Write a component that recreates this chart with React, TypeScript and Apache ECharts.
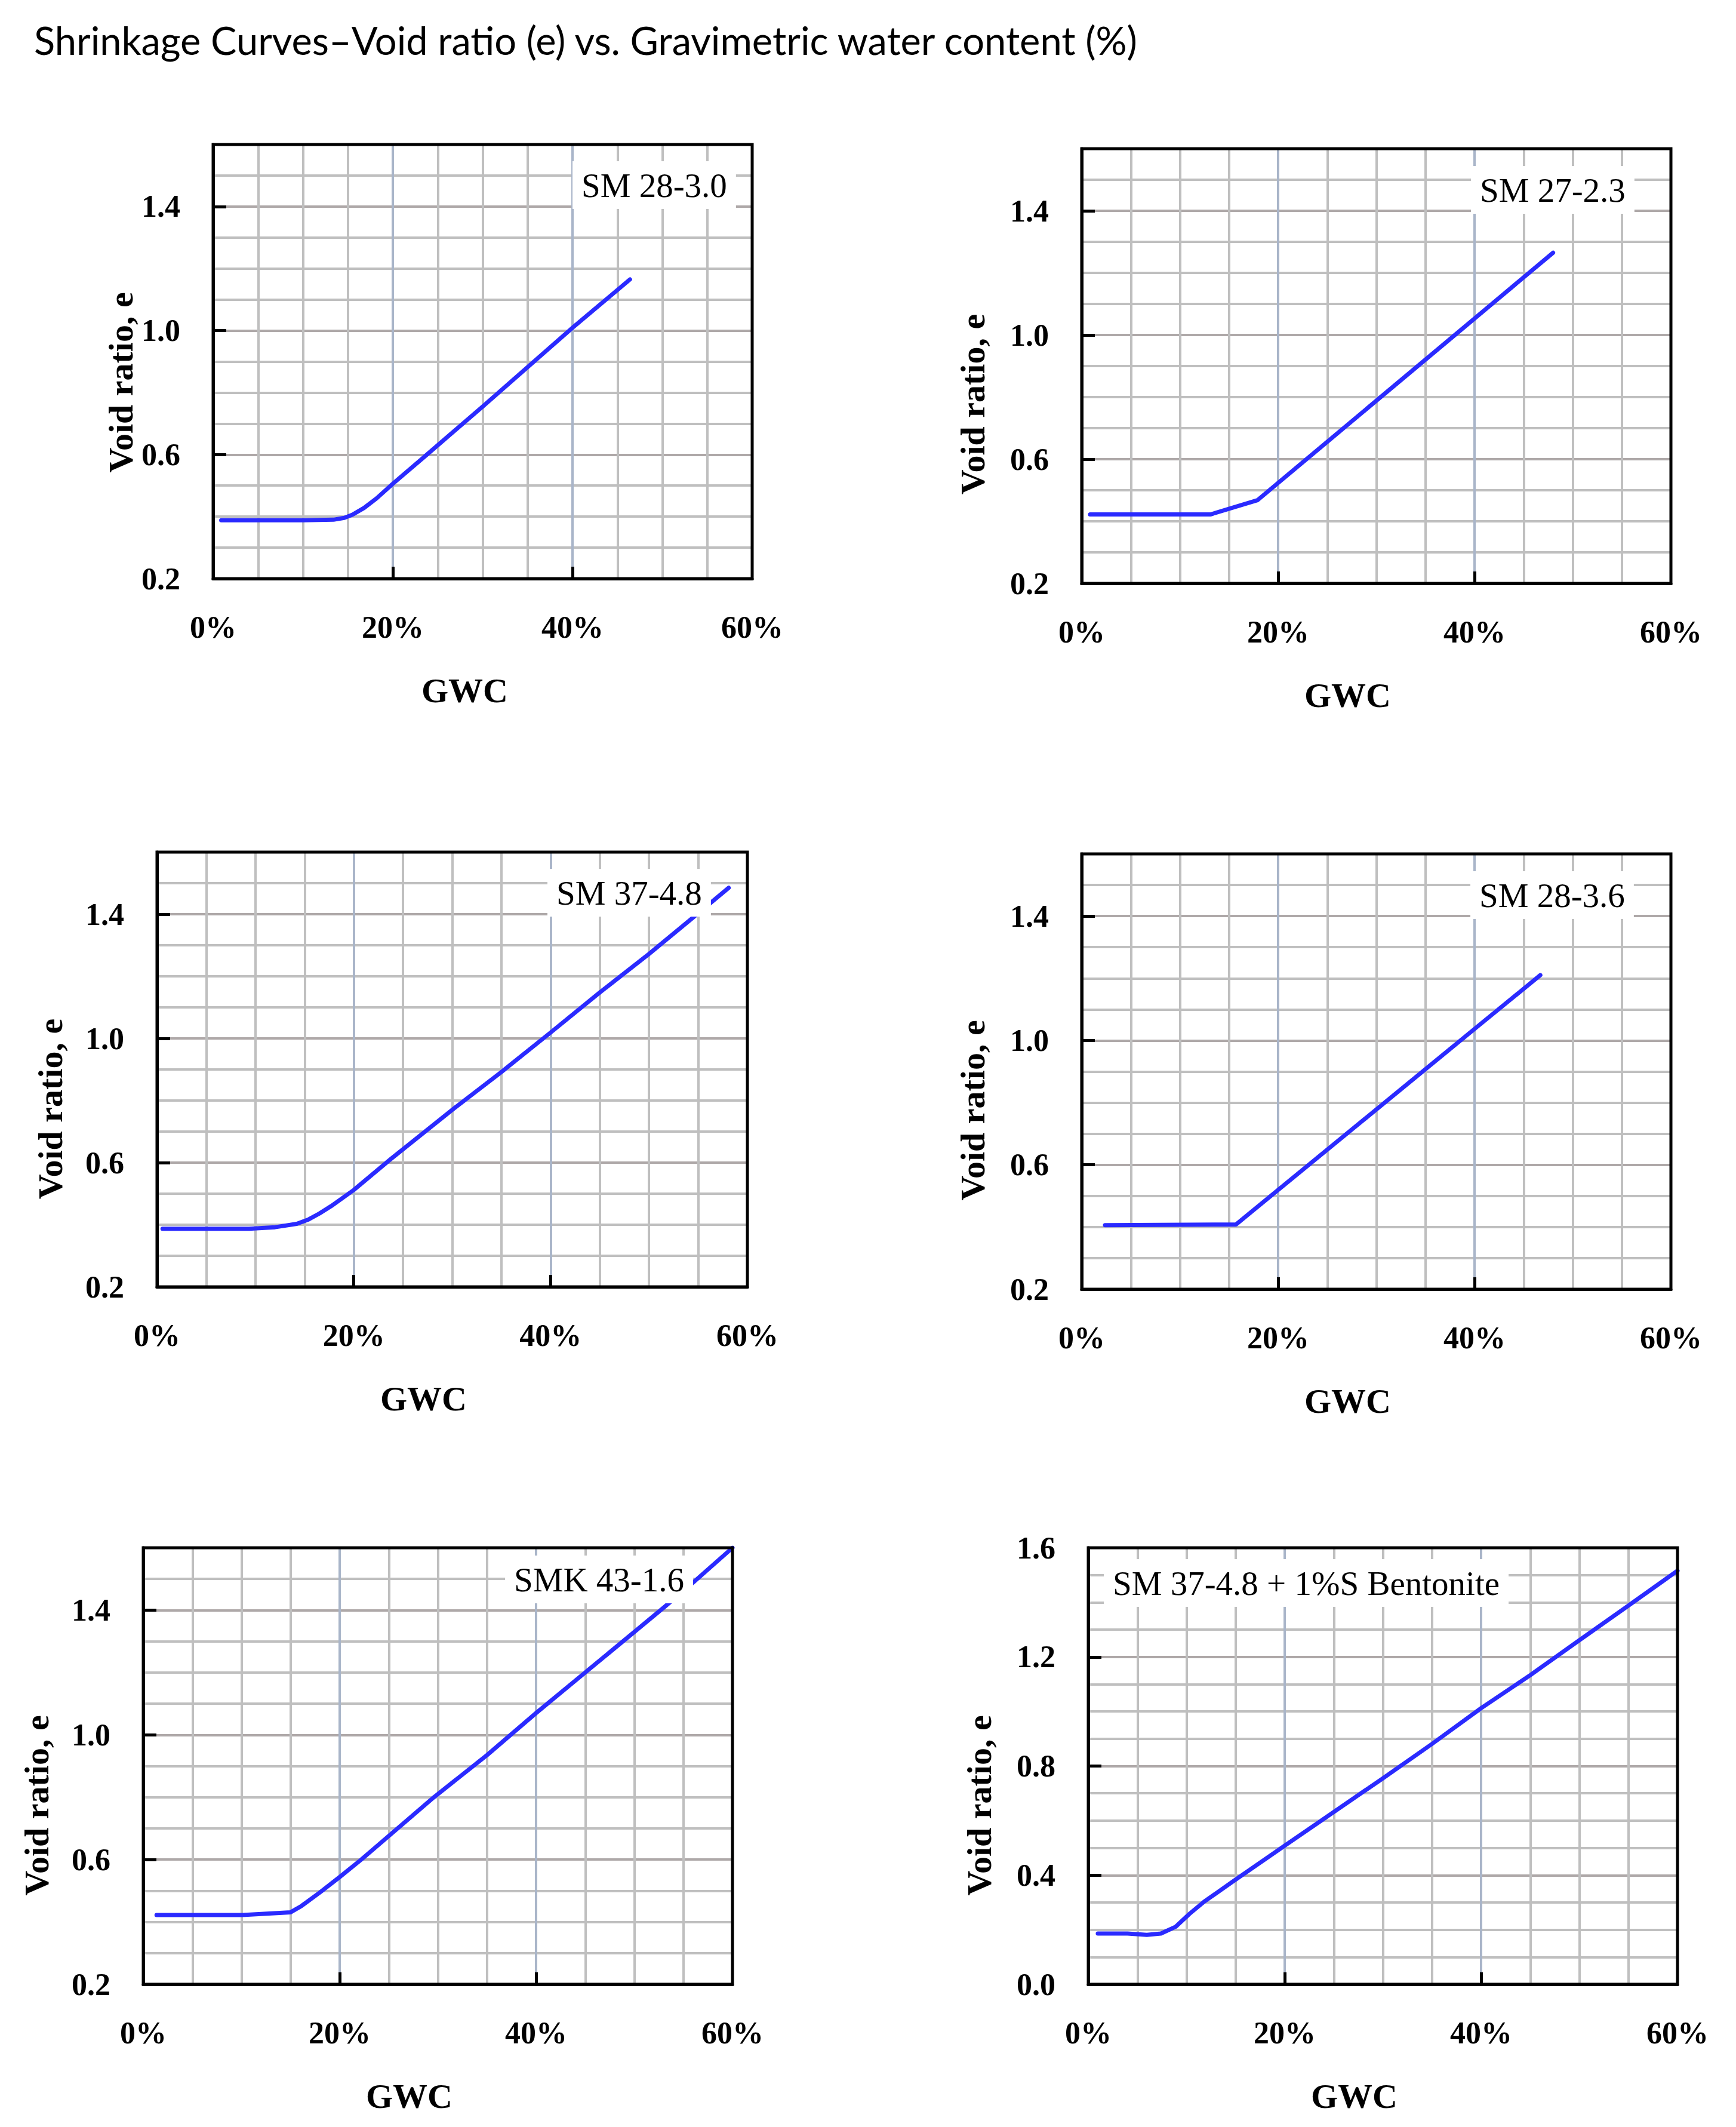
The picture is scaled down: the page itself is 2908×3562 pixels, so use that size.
import React, { useEffect, useRef } from 'react';
import * as echarts from 'echarts';

// ---------- data ----------
const chartTitle = 'Shrinkage Curves–Void ratio (e) vs. Gravimetric water content (%)';
const sampleNames = ['SM 28-3.0', 'SM 27-2.3', 'SM 37-4.8', 'SM 28-3.6', 'SMK 43-1.6', 'SM 37-4.8 + 1%S Bentonite'];

const gwcSM28_30 = [0.9, 5, 10, 13.4, 14.6, 15.5, 16.8, 18.2, 20, 23.8, 30, 40, 46.4];
const eSM28_30 = [0.388, 0.388, 0.388, 0.39, 0.396, 0.406, 0.428, 0.459, 0.506, 0.6, 0.755, 1.009, 1.165];

const gwcSM27_23 = [0.85, 13.1, 17.9, 38.0, 48.0];
const eSM27_23 = [0.422, 0.422, 0.468, 1.0, 1.265];

const gwcSM37_48 = [0.56, 9.35, 12.0, 14.2, 15.4, 16.5, 17.7, 20, 23.7, 30.2, 35, 40, 45, 50, 54.5, 58.1];
const eSM37_48 = [0.387, 0.387, 0.392, 0.403, 0.417, 0.436, 0.46, 0.512, 0.61, 0.775, 0.892, 1.019, 1.148, 1.272, 1.39, 1.485];

const gwcSM28_36 = [2.37, 15.7, 40, 46.7];
const eSM28_36 = [0.406, 0.408, 1.037, 1.21];

const gwcSMK43_16 = [1.35, 10.1, 15, 16.1, 18.0, 20, 22.2, 29.6, 35, 40, 45, 50, 53.1, 56.05, 60];
const eSMK43_16 = [0.422, 0.422, 0.431, 0.451, 0.495, 0.544, 0.6, 0.8, 0.935, 1.07, 1.2, 1.33, 1.411, 1.49, 1.6];

const gwcSM37_48B = [0.97, 4.0, 5.96, 7.4, 8.9, 10.3, 11.8, 14.7, 20, 30, 35, 40, 45, 50, 55, 60];
const eSM37_48B = [0.186, 0.186, 0.181, 0.186, 0.211, 0.258, 0.303, 0.376, 0.508, 0.755, 0.881, 1.012, 1.133, 1.261, 1.388, 1.516];

const xTickLabels = [0, 20, 40, 60];
const xInnerTicks = [20, 40];
const yTickLabelsA = [0.2, 0.6, 1.0, 1.4];
const yInnerTicksA = [0.6, 1.0, 1.4];
const yTickLabelsB = [0.0, 0.4, 0.8, 1.2, 1.6];
const yInnerTicksB = [0.4, 0.8, 1.2];

const seriesX = [gwcSM28_30, gwcSM27_23, gwcSM37_48, gwcSM28_36, gwcSMK43_16, gwcSM37_48B];
const seriesY = [eSM28_30, eSM27_23, eSM37_48, eSM28_36, eSMK43_16, eSM37_48B];

// ---------- layout ----------
const layout = [
  { left: 357, top: 242, width: 903, height: 727, yGap: 126, yShift: 70, xShift: 60, lab: [959, 270], yMin: 0.2 },
  { left: 1812, top: 249, width: 987, height: 728, yGap: 154, yShift: 128, xShift: 96, lab: [2464, 278], yMin: 0.2 },
  { left: 263, top: 1427, width: 989, height: 728, yGap: 150, yShift: 132, xShift: 96, lab: [917, 1455], yMin: 0.2 },
  { left: 1812, top: 1430, width: 987, height: 729, yGap: 154, yShift: 130, xShift: 96, lab: [2463, 1459], yMin: 0.2 },
  { left: 240, top: 2592, width: 987, height: 731, yGap: 150, yShift: 132, xShift: 96, lab: [846, 2605], yMin: 0.2 },
  { left: 1823, top: 2592, width: 987, height: 731, yGap: 154, yShift: 132, xShift: 96, lab: [1849, 2611], yMin: 0.0 },
];

const SERIF = '"Liberation Serif", "DejaVu Serif", serif';
const MINOR = '#bfbfbf';
const MAJOR_H = '#aea8a8';
const MAJOR_V = '#a9b5c9';

// minor grid positions (every 5 % / 0.1, skipping the labelled major lines and the frame)
function minorX(): number[] {
  const out: number[] = [];
  for (let k = 1; k < 12; k++) if (k % 4 !== 0) out.push(k * 5);
  return out;
}
function minorY(yMin: number): number[] {
  const out: number[] = [];
  const n = Math.round((1.6 - yMin) * 10);
  for (let k = 1; k < n; k++) if (k % 4 !== 0) out.push(Math.round((yMin + k * 0.1) * 10) / 10);
  return out;
}

function buildOption() {
  const grid = layout.map((g) => ({ left: g.left, top: g.top, width: g.width, height: g.height, containLabel: false }));

  const xAxis: any[] = [];
  const yAxis: any[] = [];
  layout.forEach((g, i) => {
    // minor grid axis
    xAxis.push({
      type: 'value',
      gridIndex: i,
      position: 'bottom',
      offset: 0,
      min: 0,
      max: 60,
      interval: 5,
      axisLine: { show: false, onZero: false },
      axisTick: { show: false, customValues: minorX() },
      axisLabel: { show: false },
      splitLine: { show: true, lineStyle: { color: MINOR, width: 4 } },
    });
    // main axis
    xAxis.push({
      type: 'value',
      gridIndex: i,
      position: 'bottom',
      offset: 0,
      min: 0,
      max: 60,
      name: 'GWC',
      nameLocation: 'middle',
      nameGap: 158,
      nameTextStyle: { fontFamily: SERIF, fontWeight: 'bold', fontSize: 58, color: '#000', padding: [0, g.xShift, 0, 0] },
      axisLine: { show: true, onZero: false, lineStyle: { color: '#000', width: 5 } },
      axisTick: { show: true, inside: true, length: 20, customValues: xInnerTicks, lineStyle: { color: '#000', width: 5 } },
      axisLabel: {
        customValues: xTickLabels,
        formatter: (v: number) => `${Math.round(v)}%`,
        margin: 55,
        fontFamily: SERIF,
        fontWeight: 'bold',
        fontSize: 52,
        color: '#000',
      },
      splitLine: { show: true, lineStyle: { color: MAJOR_V, width: 4 } },
    });

    const isB = g.yMin === 0;
    yAxis.push({
      type: 'value',
      gridIndex: i,
      position: 'left',
      offset: 0,
      min: g.yMin,
      max: 1.6,
      interval: 0.1,
      axisLine: { show: false, onZero: false },
      axisTick: { show: false, customValues: minorY(g.yMin) },
      axisLabel: { show: false },
      splitLine: { show: true, lineStyle: { color: MINOR, width: 4 } },
    });
    yAxis.push({
      type: 'value',
      gridIndex: i,
      position: 'left',
      offset: 0,
      min: g.yMin,
      max: 1.6,
      name: 'Void ratio, e',
      nameLocation: 'middle',
      nameRotate: 90,
      nameGap: g.yGap,
      nameTextStyle: { fontFamily: SERIF, fontWeight: 'bold', fontSize: 58, color: '#000', padding: [0, g.yShift, 0, 0] },
      axisLine: { show: true, onZero: false, lineStyle: { color: '#000', width: 5 } },
      axisTick: {
        show: true,
        inside: true,
        length: 22,
        customValues: isB ? yInnerTicksB : yInnerTicksA,
        lineStyle: { color: '#000', width: 5 },
      },
      axisLabel: {
        customValues: isB ? yTickLabelsB : yTickLabelsA,
        formatter: (v: number) => v.toFixed(1),
        margin: 55,
        fontFamily: SERIF,
        fontWeight: 'bold',
        fontSize: 52,
        color: '#000',
      },
      splitLine: { show: true, lineStyle: { color: MAJOR_H, width: 4 } },
    });
  });

  const series = seriesX.map((xs, i) => ({
    type: 'line',
    name: sampleNames[i],
    xAxisIndex: 2 * i + 1,
    yAxisIndex: 2 * i + 1,
    data: xs.map((x, k) => [x, seriesY[i][k]]),
    showSymbol: false,
    symbol: 'none',
    smooth: false,
    lineStyle: { color: '#2a2aff', width: 7, cap: 'round', join: 'round' },
    z: 3,
  }));

  const title: any[] = [
    {
      text: chartTitle,
      left: 57,
      top: 34,
      padding: 0,
      textStyle: { fontFamily: 'Lato, "Open Sans", sans-serif', fontSize: 65, fontWeight: 'normal', color: '#000' },
    },
    ...layout.map((g, i) => ({
      text: sampleNames[i],
      left: g.lab[0],
      top: g.lab[1],
      backgroundColor: '#ffffff',
      padding: [10, 15],
      z: 10,
      textStyle: { fontFamily: SERIF, fontSize: 57, fontWeight: 'normal', color: '#000', lineHeight: 60 },
    })),
  ];

  const graphic = layout.map((g) => ({
    type: 'rect',
    z: 50,
    silent: true,
    shape: { x: g.left, y: g.top, width: g.width, height: g.height },
    style: { fill: 'none', stroke: '#000', lineWidth: 5 },
  }));

  return {
    animation: false,
    backgroundColor: '#ffffff',
    title,
    grid,
    xAxis,
    yAxis,
    series,
    graphic,
  };
}

export default function App() {
  const ref = useRef<HTMLDivElement>(null);
  useEffect(() => {
    if (!ref.current) return;
    const chart = echarts.init(ref.current, undefined, { renderer: 'svg' });
    chart.setOption(buildOption() as any);
    return () => chart.dispose();
  }, []);
  return (
    <div
      ref={ref}
      style={{ position: 'absolute', left: 0, top: 0, width: 2908, height: 3562, background: '#fff' }}
    />
  );
}
